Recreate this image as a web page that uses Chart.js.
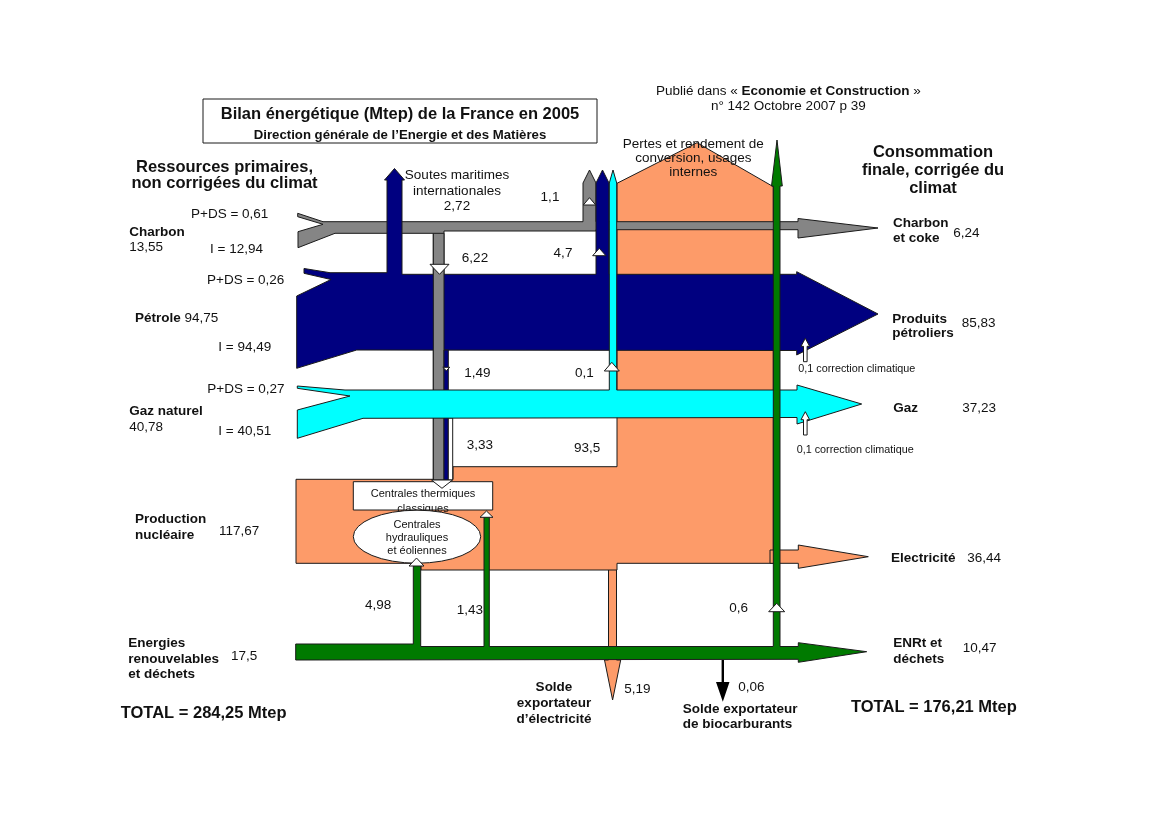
<!DOCTYPE html>
<html lang="fr">
<head>
<meta charset="utf-8">
<title>Bilan énergétique (Mtep) de la France en 2005</title>
<script src="https://cdn.jsdelivr.net/npm/chart.js@4.4.1/dist/chart.umd.min.js"></script>
<style>
  html, body { margin: 0; padding: 0; background: #fff; }
  #wrap { width: 1170px; height: 827px; }
</style>
</head>
<body>
<div id="wrap"><canvas id="bilan" width="1170" height="827"></canvas></div>
<script>
// Ressources primaires (Mtep)
const sourceNames = ['Charbon', 'Pétrole', 'Gaz naturel', 'Production\nnucléaire', 'Energies\nrenouvelables\net déchets'];
const sourceValues = [13.55, 94.75, 40.78, 117.67, 17.5];
const domesticValues = [0.61, 0.26, 0.27];   // P+DS
const importValues = [12.94, 94.49, 40.51];  // I

// Consommation finale (Mtep)
const finalNames = ['Charbon\net coke', 'Produits\npétroliers', 'Gaz', 'Electricité', 'ENRt et\ndéchets'];
const finalValues = [6.24, 85.83, 37.23, 36.44, 10.47];

// Flux intermédiaires
const flowNames = ['Soutes maritimes internationales', 'Charbon > pertes', 'Charbon > centrales', 'Pétrole > pertes',
  'Pétrole > centrales', 'Gaz > pertes', 'Gaz > centrales', 'Nucléaire > pertes', 'ENR > hydraulique',
  'ENR > centrales', 'ENR > pertes', "Solde exportateur d'électricité", 'Solde exportateur de biocarburants'];
const flowValues = [2.72, 1.1, 6.22, 4.7, 1.49, 0.1, 3.33, 93.5, 4.98, 1.43, 0.6, 5.19, 0.06];

const correctionValues = [0.1, 0.1];
const totalValues = [284.25, 176.21];

const FONT = '"Liberation Sans", Arial, sans-serif';
const OUTLINE = '#1a1a1a';
const COLORS = { coal: '#858585', oil: '#000080', gas: '#00ffff', elec: '#fd9b69', renew: '#007a00' };

const fmt = v => String(v).replace('.', ',');

const bilanPlugin = {
  id: 'bilan',
  afterDatasetsDraw(chart) {
    const { ctx, scales: { x, y } } = chart;
    const X = v => x.getPixelForValue(v);
    const Y = v => y.getPixelForValue(v);

    const shape = (pts, fill, stroke = OUTLINE) => {
      ctx.beginPath();
      pts.forEach(([a, b], i) => i ? ctx.lineTo(X(a), Y(b)) : ctx.moveTo(X(a), Y(b)));
      ctx.closePath();
      ctx.fillStyle = fill;
      ctx.fill();
      if (stroke) { ctx.strokeStyle = stroke; ctx.lineWidth = 1; ctx.stroke(); }
    };
    const rect = (x0, y0, x1, y1, fill, stroke) => shape([[x0, y0], [x1, y0], [x1, y1], [x0, y1]], fill, stroke);
    // petit triangle blanc (sens du flux)
    const marker = (cx, tip, base, w) => shape([[cx - w / 2, base], [cx, tip], [cx + w / 2, base]], '#fff');
    const text = (s, px, py, size, bold, align) => {
      ctx.font = (bold ? 'bold ' : '') + size + 'px ' + FONT;
      ctx.textAlign = align || 'left';
      ctx.textBaseline = 'alphabetic';
      ctx.fillStyle = '#111';
      ctx.fillText(s, X(px), Y(py));
    };
    const lines = (s, px, py, lh, size, bold, align) =>
      s.split('\n').forEach((l, i) => text(l, px, py + i * lh, size, bold, align));

    ctx.save();

    // --- électricité : export 5,19 puis bloc nucléaire + pertes
    shape([[608.5, 566], [616.5, 566], [616.5, 660], [620.7, 660], [612.6, 700], [604.5, 660], [608.5, 660]], COLORS.elec);
    shape([[296, 479.3], [453, 479.3], [453, 466.7], [617, 466.7], [617, 183.3], [697, 142.7], [773.3, 186.7],
      [773.3, 563.3], [617, 563.3], [617, 570], [421, 570], [421, 563.3], [296, 563.3]], COLORS.elec);
    shape([[770, 550], [798.3, 550], [798.3, 545], [868.3, 556.7], [798.3, 568.3], [798.3, 563.3], [770, 563.3]], COLORS.elec);

    // --- charbon
    shape([[297.7, 213.3], [323, 221.7], [583, 221.7], [583, 183], [589.5, 170], [596, 183], [596, 221.7],
      [798, 221.7], [798, 218.5], [878, 228], [798, 238], [798, 229.7], [596, 229.7], [596, 231], [444, 231],
      [444, 480], [433.3, 480], [433.3, 233.3], [335, 233.3], [298, 247.7], [298, 231.7], [323, 224.3],
      [297.7, 216.7]], COLORS.coal);

    // --- pétrole
    shape([[304, 268.5], [330, 272.7], [387, 272.7], [387, 180], [384.5, 180], [394.5, 168.5], [404.5, 180],
      [402, 180], [402, 274.3], [596, 274.3], [596, 183], [602.5, 170], [609, 183], [609, 274.3],
      [796.7, 274.3], [796.7, 271.7], [878, 314], [796.7, 355], [796.7, 350.5], [356.7, 350],
      [296.7, 368.3], [296.7, 296], [331, 279.5], [304, 273.3]], COLORS.oil);

    // descentes vers les centrales thermiques (charbon, pétrole, gaz)
    rect(433.3, 233.3, 444, 480, COLORS.coal);
    rect(444, 350, 448.3, 480, COLORS.oil);
    rect(448.3, 418, 452.7, 480, '#fff');

    // --- gaz
    shape([[297.3, 386], [345, 390], [609.3, 390], [609.3, 183], [613, 170], [616.7, 183], [616.7, 390],
      [797, 390], [797, 385], [861.7, 404], [797, 424], [797, 417.5], [363, 418.3], [297.3, 438.3],
      [297.3, 410], [350, 396], [297.3, 388.3]], COLORS.gas);

    // --- énergies renouvelables
    shape([[295.7, 644], [413.3, 644], [413.3, 564], [420.7, 564], [420.7, 646.5], [484, 646.5], [484, 515],
      [489.3, 515], [489.3, 646.5], [773.3, 646.5], [773.3, 186], [771.5, 186], [777, 140], [782.3, 186],
      [780, 186], [780, 646.5], [798.3, 646.5], [798.3, 642.7], [866.7, 651.7], [798.3, 662.3],
      [798.3, 659.3], [295.7, 660]], COLORS.renew);

    // biocarburants 0,06
    shape([[721.6, 660], [724, 660], [724, 682], [729.5, 682], [722.8, 701.7], [716, 682], [721.6, 682]], '#000', null);

    // sens des flux
    marker(589.5, 197.7, 205, 12.4);
    marker(599.3, 248.3, 255.7, 13.3);
    marker(439.5, 274.3, 264.3, 19);
    marker(446.3, 370.7, 367.3, 7);
    marker(611.8, 362.3, 371, 15);
    marker(486.5, 511, 517.3, 13);
    marker(776.7, 603.3, 611.7, 16);

    // corrections climatiques
    [[805.3, 338.3, 361.7], [805.3, 411.7, 435]].forEach(([cx, tip, bot]) =>
      shape([[cx - 1.8, bot], [cx - 1.8, tip + 8], [cx - 4.3, tip + 8], [cx, tip], [cx + 4.3, tip + 8],
        [cx + 1.8, tip + 8], [cx + 1.8, bot]], '#fff'));

    // centrales
    rect(353.3, 481.7, 492.7, 510, '#fff');
    marker(442, 488.3, 480, 21);
    text('Centrales thermiques', 423, 496.5, 11, false, 'center');
    text('classiques', 423, 511.5, 11, false, 'center');
    ctx.beginPath();
    ctx.ellipse(X(417), Y(536.7), 63.7, 26.5, 0, 0, Math.PI * 2);
    ctx.fillStyle = '#fff';
    ctx.fill();
    ctx.strokeStyle = OUTLINE;
    ctx.lineWidth = 1;
    ctx.stroke();
    lines('Centrales\nhydrauliques\net éoliennes', 417, 528.3, 12.8, 11, false, 'center');
    marker(416.5, 558, 566, 15);

    // --- titre
    rect(203, 99, 597, 143, '#fff');
    text('Bilan énergétique (Mtep) de la France en 2005', 400, 119, 16.5, true, 'center');
    text('Direction générale de l’Energie et des Matières', 400, 139, 13.2, true, 'center');

    // source de publication (mixte normal / gras)
    const pub = [['Publié dans « ', false], ['Economie et Construction', true], [' »', false]];
    let w = 0;
    pub.forEach(([s, b]) => { ctx.font = (b ? 'bold ' : '') + '13.5px ' + FONT; w += ctx.measureText(s).width; });
    let px = X(788.3) - w / 2;
    pub.forEach(([s, b]) => {
      ctx.font = (b ? 'bold ' : '') + '13.5px ' + FONT;
      ctx.textAlign = 'left';
      ctx.fillStyle = '#111';
      ctx.fillText(s, px, Y(95));
      px += ctx.measureText(s).width;
    });
    text('n° 142 Octobre 2007 p 39', 788.3, 110, 13.5, false, 'center');

    lines('Ressources primaires,\nnon corrigées du climat', 224.5, 171.7, 16, 16.5, true, 'center');
    lines('Consommation\nfinale, corrigée du\nclimat', 933, 156.7, 18.3, 16.5, true, 'center');

    // --- ressources primaires
    const S = 13.5;
    text('P+DS = ' + fmt(domesticValues[0]), 191, 217.7, S);
    text(sourceNames[0], 129.3, 236, S, true);
    text(fmt(sourceValues[0]), 129.3, 251, S);
    text('I = ' + fmt(importValues[0]), 210, 253, S);

    text('P+DS = ' + fmt(domesticValues[1]), 207, 284, S);
    text(sourceNames[1], 135, 321.7, S, true);
    ctx.font = 'bold ' + S + 'px ' + FONT;
    const pw = ctx.measureText(sourceNames[1] + ' ').width;
    text(fmt(sourceValues[1]), 135 + pw, 321.7, S);
    text('I = ' + fmt(importValues[1]), 218.3, 350.7, S);

    text('P+DS = ' + fmt(domesticValues[2]), 207.3, 393.3, S);
    text(sourceNames[2], 129.3, 415, S, true);
    text(fmt(sourceValues[2]), 129.3, 430.7, S);
    text('I = ' + fmt(importValues[2]), 218.3, 435, S);

    lines(sourceNames[3], 135, 523.3, 15.7, S, true);
    text(fmt(sourceValues[3]), 219, 535, S);
    lines(sourceNames[4], 128.3, 647.3, 15.5, S, true);
    text(fmt(sourceValues[4]), 231, 660, S);
    text('TOTAL = ' + fmt(totalValues[0]) + ' Mtep', 120.7, 718.3, 16.5, true);

    // --- flux intermédiaires
    lines('Soutes maritimes\ninternationales\n' + fmt(flowValues[0]), 457, 179, 15.5, S, false, 'center');
    text(fmt(flowValues[1]), 550, 200.7, S, false, 'center');
    text(fmt(flowValues[2]), 475, 261.7, S, false, 'center');
    text(fmt(flowValues[3]), 563, 256.7, S, false, 'center');
    text(fmt(flowValues[4]), 464.3, 376.7, S);
    text(fmt(flowValues[5]), 575, 376.7, S);
    text(fmt(flowValues[6]), 466.7, 449.3, S);
    text(fmt(flowValues[7]), 574, 451.7, S);
    text(fmt(flowValues[8]), 365, 609.3, S);
    text(fmt(flowValues[9]), 456.7, 614, S);
    text(fmt(flowValues[10]), 729.3, 611.7, S);
    text(fmt(flowValues[11]), 624.3, 693.3, S);
    lines('Solde\nexportateur\nd’électricité', 554, 690.7, 16, S, true, 'center');
    text(fmt(flowValues[12]), 738.3, 690.7, S);
    lines('Solde exportateur\nde biocarburants', 682.7, 712.7, 15.6, S, true);
    lines('Pertes et rendement de\nconversion, usages\ninternes', 693.3, 148.3, 13.9, S, false, 'center');

    text(fmt(correctionValues[0]) + ' correction climatique', 798.3, 371.7, 10.8);
    text(fmt(correctionValues[1]) + ' correction climatique', 796.7, 452.7, 10.8);

    // --- consommation finale
    lines(finalNames[0], 893, 226.7, 15, S, true);
    text(fmt(finalValues[0]), 953.3, 236.7, S);
    lines(finalNames[1], 892.3, 323.3, 13.4, S, true);
    text(fmt(finalValues[1]), 961.7, 326.7, S);
    text(finalNames[2], 893.3, 411.7, S, true);
    text(fmt(finalValues[2]), 962.3, 411.7, S);
    text(finalNames[3], 891, 561.7, S, true);
    text(fmt(finalValues[3]), 967.3, 561.7, S);
    lines(finalNames[4], 893.3, 646.7, 16, S, true);
    text(fmt(finalValues[4]), 962.7, 651.7, S);
    text('TOTAL = ' + fmt(totalValues[1]) + ' Mtep', 851, 711.7, 16.5, true);

    ctx.restore();
  }
};

new Chart(document.getElementById('bilan'), {
  type: 'scatter',
  data: { datasets: [{ data: [], pointRadius: 0 }] },
  options: {
    responsive: false,
    animation: false,
    layout: { padding: 0 },
    plugins: { legend: { display: false }, tooltip: { enabled: false } },
    scales: {
      x: { type: 'linear', min: 0, max: 1170, display: false },
      y: { type: 'linear', min: 0, max: 827, reverse: true, display: false }
    }
  },
  plugins: [bilanPlugin]
});
</script>
</body>
</html>
